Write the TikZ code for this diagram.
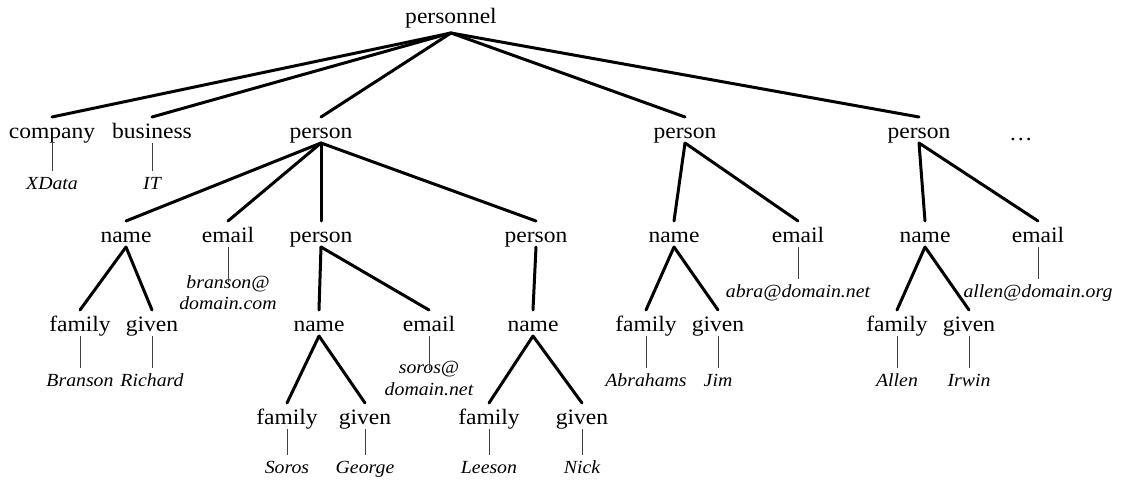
\documentclass[tikz,border=0pt]{standalone}
\usepackage{fontspec}
\setmainfont{Liberation Serif}[FakeStretch=1.07]
\begin{document}
\begin{tikzpicture}[x=1pt,y=-1pt,
  tag/.style={font=\fontsize{22}{26}\selectfont, anchor=base, inner xsep=0pt,
    inner ysep=5pt, text height=16pt, text depth=0pt, outer sep=0pt},
  rootnode/.style={tag, text depth=5pt},
  val/.style={font=\itshape\fontsize{18.5}{23}\selectfont, anchor=base, inner xsep=0pt,
    inner ysep=5pt, text height=13pt, text depth=0pt, outer sep=0pt},
  valtwo/.style={font=\itshape\fontsize{18.5}{21.5}\selectfont, anchor=north,
    align=center, inner xsep=0pt, inner ysep=5pt, outer sep=0pt},
  branch/.style={line width=3pt, line cap=round},
  leafline/.style={line width=0.9pt, draw=black!75}]
\useasboundingbox (0,0) rectangle (1122,482);

% root
\node[rootnode] (root) at (451,23) {personnel};

% level 1
\node[tag] (company)  at (52,138)  {company};
\node[tag] (business) at (152,138) {business};
\node[tag] (p1)       at (321,138) {person};
\node[tag] (p2)       at (685,138) {person};
\node[tag] (p3)       at (919,138) {person};
\node[tag] (more)     at (1021,140) {\ldots};

\node[val] (xdata) at (52,189)  {XData};
\node[val] (it)    at (152,189) {IT};

% level 2
\node[tag] (n1)  at (126,242)  {name};
\node[tag] (e1)  at (228,242)  {email};
\node[tag] (p11) at (321,242)  {person};
\node[tag] (p12) at (536,242)  {person};
\node[tag] (n2)  at (674,242)  {name};
\node[tag] (e2)  at (798,242)  {email};
\node[tag] (n3)  at (925,242)  {name};
\node[tag] (e3)  at (1038,242) {email};

\node[valtwo] (m1) at (228,270.5) {branson@\\domain.com};
\node[val] (m2) at (798,297)  {abra@domain.net};
\node[val] (m3) at (1038,297) {allen@domain.org};

% level 3
\node[tag] (f1)  at (80,331)  {family};
\node[tag] (g1)  at (152,331) {given};
\node[tag] (n11) at (319,331) {name};
\node[tag] (e11) at (429,331) {email};
\node[tag] (n12) at (533,331) {name};
\node[tag] (f2)  at (646,331) {family};
\node[tag] (g2)  at (718,331) {given};
\node[tag] (f3)  at (897,331) {family};
\node[tag] (g3)  at (969,331) {given};

\node[val] (vf1) at (80,386)  {Branson};
\node[val] (vg1) at (152,386) {Richard};
\node[val] (vf2) at (646,386) {Abrahams};
\node[val] (vg2) at (718,386) {Jim};
\node[val] (vf3) at (897,386) {Allen};
\node[val] (vg3) at (969,386) {Irwin};
\node[valtwo] (m11) at (429,356.5) {soros@\\domain.net};

% level 4
\node[tag] (f11) at (287,424) {family};
\node[tag] (g11) at (365,424) {given};
\node[tag] (f12) at (489,424) {family};
\node[tag] (g12) at (582,424) {given};

\node[val] (vf11) at (287,473) {Soros};
\node[val] (vg11) at (365,473) {George};
\node[val] (vf12) at (489,473) {Leeson};
\node[val] (vg12) at (582,473) {Nick};

% element edges
\foreach \c in {company,business,p1,p2,p3}
  \draw[branch] (root.south) -- (\c.north);
\foreach \c in {n1,e1,p11,p12}
  \draw[branch] (p1.south) -- (\c.north);
\foreach \c in {n2,e2}
  \draw[branch] (p2.south) -- (\c.north);
\foreach \c in {n3,e3}
  \draw[branch] (p3.south) -- (\c.north);
\draw[branch] (n1.south) -- (f1.north);
\draw[branch] (n1.south) -- (g1.north);
\draw[branch] (p11.south) -- (n11.north);
\draw[branch] (p11.south) -- (e11.north);
\draw[branch] (p12.south) -- (n12.north);
\draw[branch] (n2.south) -- (f2.north);
\draw[branch] (n2.south) -- (g2.north);
\draw[branch] (n3.south) -- (f3.north);
\draw[branch] (n3.south) -- (g3.north);
\draw[branch] (n11.south) -- (f11.north);
\draw[branch] (n11.south) -- (g11.north);
\draw[branch] (n12.south) -- (f12.north);
\draw[branch] (n12.south) -- (g12.north);

% text values
\draw[leafline] (company.south) -- (xdata.north);
\draw[leafline] (business.south) -- (it.north);
\draw[leafline, shorten >=-11pt] (e1.south) -- (m1.north);
\draw[leafline] (e2.south) -- (m2.north);
\draw[leafline] (e3.south) -- (m3.north);
\draw[leafline] (f1.south) -- (vf1.north);
\draw[leafline] (g1.south) -- (vg1.north);
\draw[leafline] (f2.south) -- (vf2.north);
\draw[leafline] (g2.south) -- (vg2.north);
\draw[leafline] (f3.south) -- (vf3.north);
\draw[leafline] (g3.south) -- (vg3.north);
\draw[leafline, shorten >=-13pt] (e11.south) -- (m11.north);
\draw[leafline] (f11.south) -- (vf11.north);
\draw[leafline] (g11.south) -- (vg11.north);
\draw[leafline] (f12.south) -- (vf12.north);
\draw[leafline] (g12.south) -- (vg12.north);
\end{tikzpicture}
\end{document}
